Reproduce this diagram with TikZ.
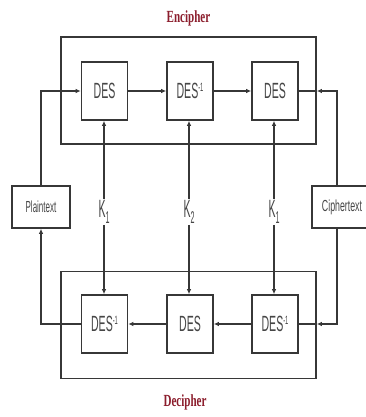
\documentclass[tikz,border=0pt]{standalone}
\usepackage{fontspec}
\setmainfont{Liberation Serif}
\setsansfont{Liberation Sans}
\usetikzlibrary{arrows.meta}
\definecolor{lnc}{RGB}{55,55,55}
\definecolor{txt}{RGB}{70,70,70}
\definecolor{titlered}{RGB}{140,30,45}
\newcommand{\sqz}[2]{\scalebox{#1}[1]{#2}}
\newcommand{\desinv}{DES\raisebox{7pt}{\fontsize{12}{12}\selectfont -1}}
\newcommand{\keylab}[1]{K\raisebox{-6pt}{\fontsize{17}{17}\selectfont #1}}
\begin{document}
\begin{tikzpicture}[x=1pt,y=-1pt,
  outer/.style={draw=lnc, line width=1.6pt, minimum width=255pt, minimum height=107pt, inner sep=0pt},
  desbox/.style={draw=lnc, line width=1.6pt, minimum width=46pt, minimum height=58pt, inner sep=0pt,
    font=\sffamily\fontsize{22}{22}\selectfont, text=txt},
  iobox/.style={draw=lnc, line width=1.6pt, minimum height=42pt, inner sep=0pt,
    font=\sffamily\fontsize{16}{16}\selectfont, text=txt},
  keylabel/.style={inner sep=1pt, font=\sffamily\fontsize{25}{25}\selectfont, text=txt},
  ttl/.style={font=\bfseries\fontsize{17}{17}\selectfont, text=titlered},
  ln/.style={draw=lnc, line width=1.4pt},
  arr/.style={ln, -{Latex[length=5pt,width=4.5pt]}}]
\useasboundingbox (0,0) rectangle (366,417);
\fill[white] (0,0) rectangle (366,417);

% titles
\node[ttl] (enc) at (188.5,18) {\sqz{0.65}{Encipher}};
\node[ttl] (dec) at (185,402) {\sqz{0.65}{Decipher}};

% outer boxes
\node[outer] (outerT) at (188.5,90.5) {};
\node[outer] (outerB) at (188.5,325) {};

% top row
\node[desbox] (t1) at (104.5,91) {\sqz{0.48}{DES}};
\node[desbox] (t2) at (190,91) {\sqz{0.48}{\desinv}};
\node[desbox] (t3) at (275,91) {\sqz{0.48}{DES}};

% bottom row
\node[desbox] (b1) at (104.5,324) {\sqz{0.48}{\desinv}};
\node[desbox] (b2) at (190,324) {\sqz{0.48}{DES}};
\node[desbox] (b3) at (275,324) {\sqz{0.48}{\desinv}};

% io boxes
\node[iobox, minimum width=58pt] (plain) at (41,207) {\sqz{0.5}{Plaintext}};
\node[iobox, minimum width=60pt] (cipher) at (342,207) {\sqz{0.55}{Ciphertext}};
\coordinate (cx) at (337,207);

% key labels
\node[keylabel] (k1) at (104,212) {\sqz{0.42}{\keylab{1}}};
\node[keylabel] (k2) at (189,212) {\sqz{0.42}{\keylab{2}}};
\node[keylabel] (k3) at (274,212) {\sqz{0.42}{\keylab{1}}};

% encipher path
\draw[arr] (plain.north) |- (t1.west);
\draw[arr] (t1.east) -- (t2.west);
\draw[arr] (t2.east) -- (t3.west);
\draw[arr] (cx |- cipher.north) |- (outerT.east |- t3.east);
\draw[ln] (outerT.east |- t3.east) -- (t3.east);

% decipher path
\draw[arr] (cx |- cipher.south) |- (outerB.east |- b3.east);
\draw[ln] (outerB.east |- b3.east) -- (b3.east);
\draw[arr] (b3.west) -- (b2.east);
\draw[arr] (b2.west) -- (b1.east);
\draw[arr] (b1.west) -| (plain.south);

% keys
\draw[arr] (k1.north) -- (k1.north |- t1.south);
\draw[arr] (k1.south) -- (k1.south |- b1.north);
\draw[arr] (k2.north) -- (k2.north |- t2.south);
\draw[arr] (k2.south) -- (k2.south |- b2.north);
\draw[arr] (k3.north) -- (k3.north |- t3.south);
\draw[arr] (k3.south) -- (k3.south |- b3.north);
\end{tikzpicture}
\end{document}
